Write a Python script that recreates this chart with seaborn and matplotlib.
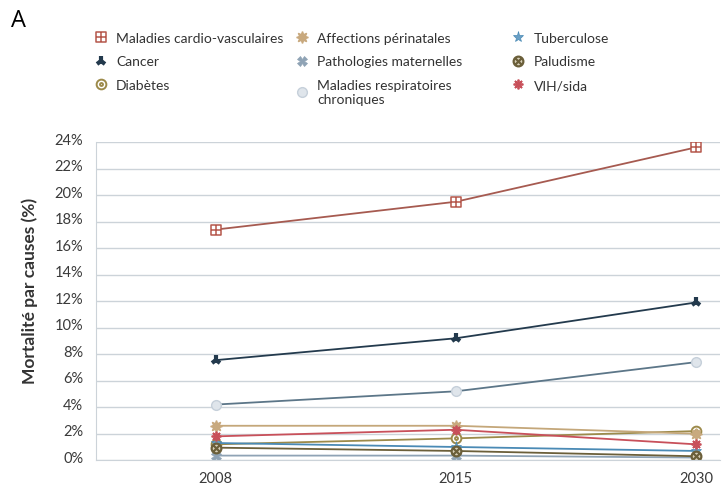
import numpy as np
import pandas as pd
import seaborn as sns
import matplotlib.pyplot as plt
import matplotlib.transforms as mtrans
from matplotlib.lines import Line2D
from matplotlib.path import Path

years = ["2008", "2015", "2030"]

cardio = [17.4, 19.5, 23.6]
cancer = [7.55, 9.2, 11.9]
diabete = [1.2, 1.65, 2.2]
perinatal = [2.6, 2.6, 2.0]
maternelles = [0.35, 0.35, 0.2]
respiratoires = [4.2, 5.2, 7.4]
tuberculose = [1.3, 1.0, 0.7]
paludisme = [0.95, 0.7, 0.3]
vih = [1.8, 2.3, 1.2]

names = ["Maladies cardio-vasculaires", "Cancer", "Diabètes",
         "Affections périnatales", "Pathologies maternelles",
         "Maladies respiratoires\nchroniques",
         "Tuberculose", "Paludisme", "VIH/sida"]
series = [cardio, cancer, diabete, perinatal, maternelles, respiratoires,
          tuberculose, paludisme, vih]

rows = []
for name, vals in zip(names, series):
    for y, v in zip(years, vals):
        rows.append({"cause": name, "year": y, "value": v})
df = pd.DataFrame(rows)

# hand-made marker shapes
M, L, C = Path.MOVETO, Path.LINETO, Path.CLOSEPOLY
box_plus = Path(
    [(-1, -1), (1, -1), (1, 1), (-1, 1), (-1, -1),
     (-1, 0), (1, 0), (0, -1), (0, 1)],
    [M, L, L, L, C, M, L, M, L])
circ = Path.unit_circle()
dot = Path(circ.vertices * 0.3, circ.codes)
circle_dot = Path.make_compound_path(circ, dot)
d = 0.7
circle_x = Path.make_compound_path(
    circ, Path([(-d, -d), (d, d), (-d, d), (d, -d)], [M, L, M, L]))

# line colour, marker, face, edge, size, edge width
styles = {
    names[0]: ("#a65a50", box_plus, "white", "#b5574b", 6.5, 1.1),
    names[1]: ("#233a4d", "2", "#233a4d", "#233a4d", 7.5, 3),
    names[2]: ("#9c8a4a", circle_dot, "white", "#9c8a4a", 7, 1.4),
    names[3]: ("#c4a77a", (8, 1, 0), "#c8a97e", "#c8a97e", 8.5, 1),
    names[4]: ("#8fa3b5", "X", "#8fa3b5", "#8fa3b5", 6.5, 0.5),
    names[5]: ("#5c7688", "o", "#dfe5eb", "#c6d0da", 7, 1),
    names[6]: ("#4a8ab5", "*", "#6a9fc5", "#4a8ab5", 8, 0.5),
    names[7]: ("#6b5f3a", circle_x, "#d8cfb8", "#6b5f3a", 7, 1.6),
    names[8]: ("#c8505a", (8, 2, 0), "#c8505a", "#c8505a", 7, 1.3),
}

sns.set_style("white")
plt.rcParams["font.family"] = ["Lato", "DejaVu Sans"]

fig = plt.figure(figsize=(7.25, 4.85), dpi=100)
ax = fig.add_axes([0.132, 0.049, 0.861, 0.656])

handles = []
for name in names:
    col, mk, fc, ec, ms, mew = styles[name]
    sns.lineplot(data=df[df["cause"] == name], x="year", y="value",
                 color=col, marker=mk, markersize=ms, markerfacecolor=fc,
                 markeredgecolor=ec, markeredgewidth=mew, linewidth=1.3,
                 ax=ax, legend=False)
    handles.append(Line2D([], [], linestyle="none", marker=mk, markersize=ms,
                          markerfacecolor=fc, markeredgecolor=ec,
                          markeredgewidth=mew, label=name))

ax.set_xlim(-0.5, 2.1)
ax.set_ylim(0, 24)
ax.set_yticks(range(0, 25, 2))
ax.set_yticklabels([f"{t}%" for t in range(0, 25, 2)])
ax.grid(axis="y", color="#ccd3d9", linewidth=1)
ax.set_axisbelow(True)
for s in ["top", "right"]:
    ax.spines[s].set_visible(False)
ax.spines["left"].set_color("#ccd3d9")
ax.spines["bottom"].set_color("#ccd3d9")
ax.tick_params(axis="both", length=0, labelsize=10.5, labelcolor="#3a3a3a")
ax.tick_params(axis="x", pad=8)
ax.tick_params(axis="y", pad=9)
shift = mtrans.ScaledTranslation(0, 4 / 100, fig.dpi_scale_trans)
for lab in ax.get_yticklabels():
    lab.set_transform(lab.get_transform() + shift)
ax.set_xlabel("")
ax.set_ylabel("Mortalité par causes (%)", fontsize=12.5, fontweight="bold",
              color="#333333")
ax.yaxis.set_label_coords(-0.092, 0.535)

col_x = [0.118, 0.395, 0.694]
for i in range(3):
    fig.legend(handles=handles[3 * i:3 * i + 3], loc="upper left",
               bbox_to_anchor=(col_x[i], 0.947), frameon=False, fontsize=10,
               labelcolor="#333333", handletextpad=0.5, borderpad=0,
               labelspacing=0.85, handlelength=1.2)

fig.text(0.015, 0.945, "A", fontsize=17, family="Open Sans", color="black")

plt.savefig("out.png", dpi=100)
